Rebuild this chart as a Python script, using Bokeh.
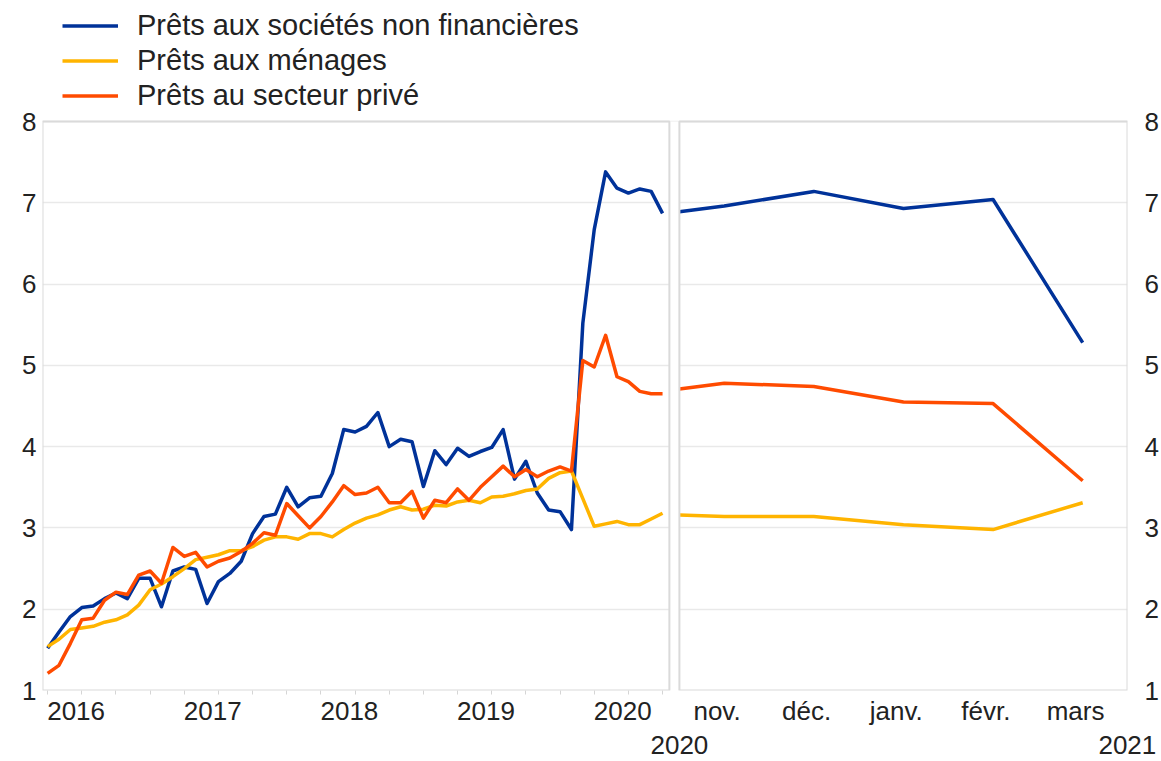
import numpy as np
from bokeh.plotting import figure
from bokeh.models import Range1d, LinearAxis, FixedTicker, Legend, LegendItem, BoxAnnotation
from bokeh.embed import file_html
from bokeh.resources import INLINE

# ---------------- data ----------------
series_names = ["Prêts aux sociétés non financières", "Prêts aux ménages", "Prêts au secteur privé"]

# left panel: monthly, April 2016 .. October 2020 (months counted from January 2016)
left_first_month = 3
nfc_left = [1.52, 1.72, 1.91, 2.02, 2.04, 2.13, 2.20, 2.13, 2.38, 2.38,
            2.03, 2.47, 2.52, 2.49, 2.07, 2.34, 2.44, 2.59, 2.93, 3.14,
            3.17, 3.50, 3.26, 3.37, 3.39, 3.67, 4.21, 4.18, 4.25, 4.42,
            4.00, 4.09, 4.06, 3.51, 3.95, 3.78, 3.98, 3.88, 3.94, 3.99,
            4.21, 3.60, 3.82, 3.43, 3.22, 3.20, 2.98, 5.52, 6.67, 7.38,
            7.18, 7.12, 7.17, 7.14, 6.87]
hh_left = [1.54, 1.63, 1.75, 1.77, 1.79, 1.84, 1.87, 1.93, 2.05, 2.24,
           2.31, 2.40, 2.50, 2.61, 2.64, 2.67, 2.72, 2.72, 2.77, 2.85,
           2.89, 2.89, 2.86, 2.93, 2.93, 2.89, 2.98, 3.06, 3.12, 3.16,
           3.22, 3.26, 3.22, 3.23, 3.28, 3.27, 3.32, 3.34, 3.31, 3.38,
           3.39, 3.42, 3.46, 3.48, 3.61, 3.68, 3.70, 3.36, 3.02, 3.05,
           3.08, 3.04, 3.04, 3.11, 3.18]
priv_left = [1.21, 1.31, 1.58, 1.87, 1.89, 2.11, 2.21, 2.18, 2.42, 2.47,
             2.32, 2.76, 2.65, 2.70, 2.52, 2.59, 2.63, 2.71, 2.81, 2.94,
             2.91, 3.30, 3.15, 3.00, 3.14, 3.32, 3.52, 3.41, 3.43, 3.50,
             3.31, 3.31, 3.45, 3.12, 3.34, 3.31, 3.48, 3.34, 3.50, 3.63,
             3.76, 3.63, 3.72, 3.63, 3.70, 3.75, 3.70, 5.06, 4.98, 5.37,
             4.86, 4.80, 4.68, 4.65, 4.65]
year_labels = ["2016", "2017", "2018", "2019", "2020"]

# right panel: November 2020 .. March 2021 (first point = October, at the panel edge)
right_x = [-0.5, 0, 1, 2, 3, 4]
right_months = ["nov.", "déc.", "janv.", "févr.", "mars"]
nfc_right = [6.89, 6.96, 7.14, 6.93, 7.04, 5.28]
hh_right = [3.16, 3.14, 3.14, 3.04, 2.98, 3.31]
priv_right = [4.71, 4.78, 4.74, 4.55, 4.53, 3.58]
right_years = ["2020", "2021"]

y_ticks = [1, 2, 3, 4, 5, 6, 7, 8]

# ---------------- layout / style ----------------
COLORS = ["#003299", "#FFB400", "#FF4B00"]
FONT = "Liberation Sans"
TXT = "#222222"
PAD_L, PAD_R, GAP, RIGHT_UNIT = 0.45, 0.6, 0.88, 7.87
LABEL_SHIFT = -0.08   # month labels sit slightly left of their points
PLOT_H = 569          # pixel height of the value area (1..8)
TOP_SPACE = 121       # pixels above the value area, holding the legend
Y_MIN, Y_MAX = y_ticks[0], y_ticks[-1]
px_per_unit = PLOT_H / (Y_MAX - Y_MIN)
y_top = Y_MAX + TOP_SPACE / px_per_unit

left_x = left_first_month + np.arange(len(nfc_left))
L0 = left_x[0] - PAD_L
L1 = left_x[-1] + PAD_R
R0 = L1 + GAP
R1 = R0 + 5 * RIGHT_UNIT


def rmap(m):
    return R0 + (np.asarray(m, dtype=float) + 0.5) * RIGHT_UNIT


p = figure(frame_width=1085, frame_height=PLOT_H + TOP_SPACE,
           x_range=Range1d(L0, R1), y_range=Range1d(Y_MIN, y_top),
           output_backend="svg", toolbar_location=None,
           min_border_left=42, min_border_right=33, min_border_top=0,
           min_border_bottom=71, background_fill_color="white",
           border_fill_color="white")
p.outline_line_color = None
p.xgrid.visible = False

yt = FixedTicker(ticks=y_ticks)
p.ygrid.ticker = yt
p.ygrid.grid_line_color = "#e9e9e9"
p.ygrid.grid_line_width = 1.5

# gap and panel borders
p.add_layout(BoxAnnotation(left=L1, right=R0, bottom=Y_MIN, top=Y_MAX,
                           fill_color="white", fill_alpha=1.0, line_alpha=0))
for a, b in [(L0, L1), (R0, R1)]:
    p.add_layout(BoxAnnotation(left=a, right=b, bottom=Y_MIN, top=Y_MAX,
                               fill_alpha=0, line_color="#dadada",
                               line_alpha=1.0, line_width=2))

# lines
left_series = [nfc_left, hh_left, priv_left]
right_series = [nfc_right, hh_right, priv_right]
rx = rmap(right_x)
items = []
for name, col, lv, rv in zip(series_names, COLORS, left_series, right_series):
    r1 = p.line(left_x, lv, line_color=col, line_width=3.5, line_join="round")
    p.line(rx, rv, line_color=col, line_width=3.5, line_join="round")
    items.append(LegendItem(label=name, renderers=[r1]))

legend = Legend(items=items, location=(20, PLOT_H + 8), orientation="vertical",
                glyph_width=56, glyph_height=35, label_height=35, label_standoff=19,
                spacing=0, padding=0, margin=0, background_fill_alpha=0,
                border_line_alpha=0, label_text_font=FONT,
                label_text_font_size="29px", label_text_color=TXT)
p.add_layout(legend)


def style_axis(ax, standoff):
    ax.axis_line_color = None
    ax.major_tick_line_color = None
    ax.major_tick_out = 0
    ax.major_tick_in = 0
    ax.minor_tick_line_color = None
    ax.minor_tick_out = 0
    ax.minor_tick_in = 0
    ax.major_label_standoff = standoff
    ax.major_label_text_font = FONT
    ax.major_label_text_font_size = "26px"
    ax.major_label_text_color = TXT


# y axes
ya = p.yaxis[0]
ya.ticker = yt
style_axis(ya, 6)
yr = LinearAxis(ticker=FixedTicker(ticks=y_ticks))
style_axis(yr, 17)
p.add_layout(yr, "right")

# x axis: year labels (left panel) + month labels (right panel)
year_pos = [float(12 * k + 5.5) for k in range(len(year_labels))]
month_pos = [round(float(v), 4) for v in rmap(np.arange(len(right_months)) + LABEL_SHIFT)]
quarter_ticks = [float(q) for q in range(0, 60, 3) if L0 <= q <= L1]
xa = p.xaxis[0]
xa.ticker = FixedTicker(ticks=year_pos + month_pos, minor_ticks=quarter_ticks)
xa.major_label_overrides = {**dict(zip(year_pos, year_labels)),
                            **dict(zip(month_pos, right_months))}
style_axis(xa, 1)
xa.minor_tick_line_color = "#d5d5d5"
xa.minor_tick_out = 4
xa.minor_tick_line_width = 1

# second row: years of right panel
edge_pos = [round(float(R0), 4), round(float(R1) - 0.01, 4)]
xa2 = LinearAxis(ticker=FixedTicker(ticks=edge_pos))
xa2.major_label_overrides = dict(zip(edge_pos, right_years))
style_axis(xa2, 7)
p.add_layout(xa2, "below")

open("out.html", "w").write(file_html(p, INLINE))
